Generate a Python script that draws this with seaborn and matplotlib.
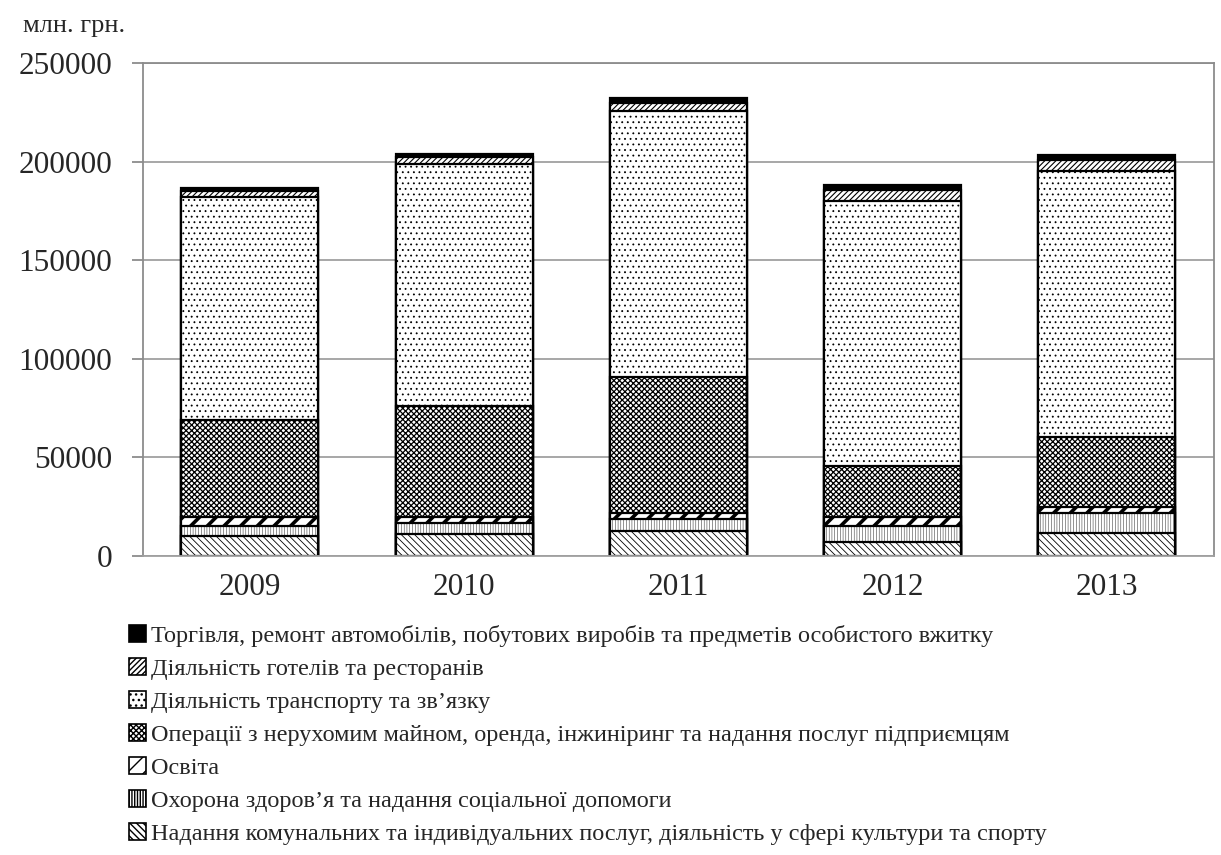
import numpy as np
import pandas as pd
import matplotlib
matplotlib.use("Agg")
import matplotlib.pyplot as plt
import seaborn as sns
from matplotlib.patches import Patch

years = ["2009", "2010", "2011", "2012", "2013"]
communal = [10200, 11000, 12700, 6800, 11800]
health = [5100, 5400, 5900, 8400, 9700]
education = [4200, 3400, 2900, 4300, 3400]
real_estate = [49500, 56400, 69400, 26200, 35200]
transport = [113100, 122800, 135100, 134600, 135100]
hotels = [2900, 3300, 4000, 5500, 5500]
trade = [1900, 1400, 2500, 2200, 2500]

names = [
    "Надання комунальних та індивідуальних послуг, діяльність у сфері культури та спорту",
    "Охорона здоров’я та надання соціальної допомоги",
    "Освіта",
    "Операції з нерухомим майном, оренда, інжиніринг та надання послуг підприємцям",
    "Діяльність транспорту та зв’язку",
    "Діяльність готелів та ресторанів",
    "Торгівля, ремонт автомобілів, побутових виробів та предметів особистого вжитку",
]
layers = [communal, health, education, real_estate, transport, hotels, trade]
hatches = ["\\\\\\\\\\", "||||||", "//", "xxxxxx", "...", "//////", ""]
hatch_lw = [0.6, 0.3, 2.6, 0.9, 0.6, 0.8, 0.6]
faces = ["white", "white", "white", "white", "white", "white", "black"]

sns.set_style("white")
plt.rcParams["font.family"] = ["Liberation Serif", "DejaVu Serif"]
plt.rcParams["hatch.color"] = "black"

fig = plt.figure(figsize=(12.21, 8.55), dpi=100)
ax = fig.add_axes([0.117, 0.350, 0.877, 0.576])

# cumulative sums, draw tallest first so lower layers cover it
cum = np.cumsum(np.array(layers), axis=0)
for i in range(len(layers) - 1, -1, -1):
    df = pd.DataFrame({"year": years, "value": cum[i]})
    with plt.rc_context({"hatch.linewidth": hatch_lw[i]}):
        sns.barplot(data=df, x="year", y="value", ax=ax, color=faces[i],
                    hatch=hatches[i], edgecolor="black", linewidth=1.6,
                    width=0.64, saturation=1, errorbar=None)

ax.set_ylim(0, 250000)
ax.set_yticks(np.arange(0, 250001, 50000))
ax.set_xlim(-0.5, 4.5)
ax.yaxis.grid(True, color="#a0a0a0", linewidth=1.3)
ax.set_axisbelow(True)
for s in ["left", "top", "right", "bottom"]:
    ax.spines[s].set_visible(True)
    ax.spines[s].set_color("#8c8c8c")
    ax.spines[s].set_linewidth(1.3)
ax.spines["bottom"].set_color("#a0a0a0")
ax.tick_params(axis="y", which="both", left=True, length=8, width=1.3,
               color="#8c8c8c", labelsize=22.5, pad=14)
ax.tick_params(axis="x", bottom=False, labelsize=22.5, pad=9)
ax.set_xlabel("")
ax.set_ylabel("")

fig.text(0.019, 0.970, "млн. грн.", fontsize=19, va="center", ha="left")

handles = []
for i in range(len(layers) - 1, -1, -1):
    with plt.rc_context({"hatch.linewidth": hatch_lw[i]}):
        handles.append(Patch(facecolor=faces[i], edgecolor="black",
                             hatch=hatches[i], linewidth=1.2, label=names[i]))
fig.legend(handles=handles, loc="upper left", bbox_to_anchor=(0.098, 0.280),
           frameon=False, fontsize=17.5, handlelength=0.7, handleheight=0.7,
           handletextpad=0.2, labelspacing=0.45, borderaxespad=0)

fig.savefig("out.png", dpi=100)
